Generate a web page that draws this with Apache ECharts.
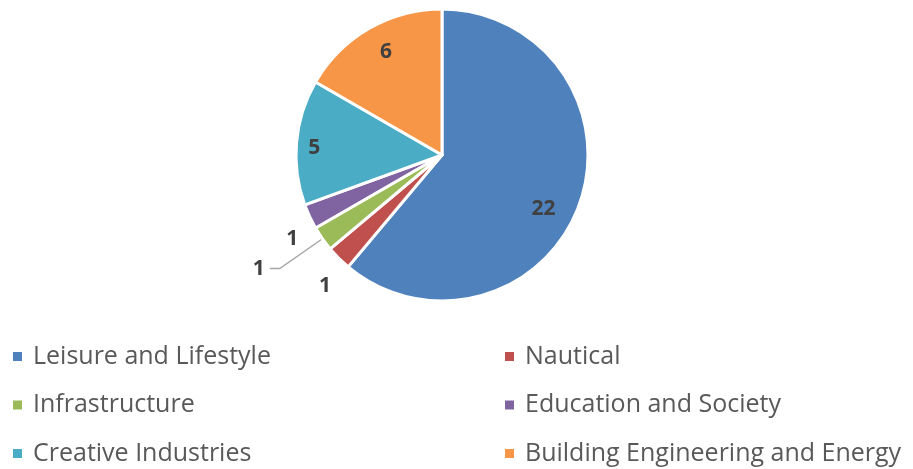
<!DOCTYPE html>
<html>
<head>
<meta charset="utf-8">
<script src="https://cdn.jsdelivr.net/npm/echarts@6/dist/echarts.min.js"></script>
<style>
  html, body { margin: 0; padding: 0; background: #fff; }
  #chart { width: 913px; height: 469px; }
</style>
</head>
<body>
<div id="chart"></div>
<script>
// sector data, clockwise from 12 o'clock
var categories = ['Leisure and Lifestyle', 'Nautical', 'Infrastructure', 'Education and Society', 'Creative Industries', 'Building Engineering and Energy']
var values = [22, 1, 1, 1, 5, 6]
var colors = ['#4F81BD', '#C0504D', '#9BBB59', '#8064A2', '#4BACC6', '#F79646']
var leftLegend = ['Leisure and Lifestyle', 'Infrastructure', 'Creative Industries']
var rightLegend = ['Nautical', 'Education and Society', 'Building Engineering and Energy']

var font = '"Open Sans", "Noto Sans", sans-serif'

// nudges so the value labels sit where Excel put them
var labelOffsets = {
  'Leisure and Lifestyle': [30, 28],
  'Nautical': [10, 15],
  'Education and Society': [10, 15],
  'Creative Industries': [-52, 0],
  'Building Engineering and Energy': [-18, -37]
}

var pieData = categories.map(function (name, i) {
  var item = { name: name, value: values[i], label: { offset: labelOffsets[name] || [0, 0] } }
  if (values[i] === 1) {
    // small slices: value written outside
    item.label.position = 'outside'
    if (name === 'Infrastructure') {
      item.labelLine = { show: true, length: 52, length2: 10 }
    } else {
      item.labelLine = { show: false, length: 18, length2: 0 }
    }
  }
  return item
})

var legendStyle = {
  orient: 'vertical',
  height: 200,
  itemWidth: 11,
  itemHeight: 11,
  itemGap: 23.5,
  icon: 'rect',
  textStyle: { fontFamily: font, fontSize: 25, color: '#595959', padding: [0, 0, 0, 5] }
}

var chart = echarts.init(document.getElementById('chart'))
chart.setOption({
  animation: false,
  color: colors,
  legend: [
    Object.assign({ left: 6, top: 339, data: leftLegend }, legendStyle),
    Object.assign({ left: 498, top: 339, data: rightLegend }, legendStyle)
  ],
  series: [{
    type: 'pie',
    center: [442, 155],
    radius: 146,
    startAngle: 90,
    clockwise: true,
    avoidLabelOverlap: false,
    itemStyle: { borderColor: '#fff', borderWidth: 3 },
    label: {
      show: true,
      position: 'inside',
      formatter: '{c}',
      fontFamily: font,
      fontSize: 21,
      fontWeight: 'bold',
      color: '#404040'
    },
    labelLine: { lineStyle: { color: '#A6A6A6', width: 1.5 } },
    emphasis: { disabled: true },
    data: pieData
  }]
})
</script>
</body>
</html>
